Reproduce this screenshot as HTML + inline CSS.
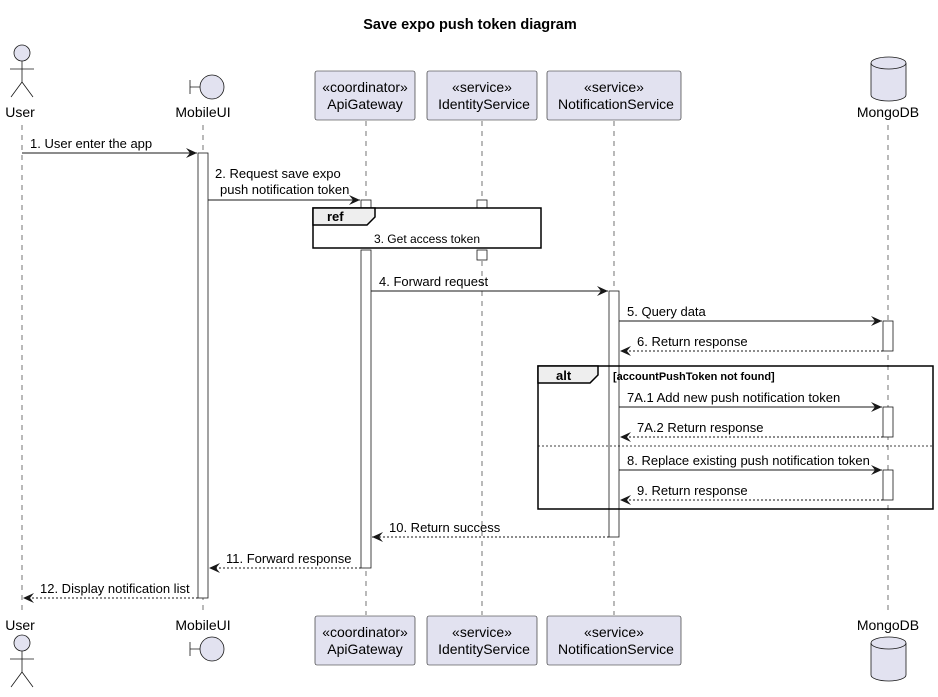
<!DOCTYPE html>
<html><head><style>body{margin:0;background:#fff}svg{display:block}text{font-family:"Liberation Sans",sans-serif;fill:#000}</style></head><body>
<svg width="938" height="697" viewBox="0 0 938 697" xmlns="http://www.w3.org/2000/svg">
<defs><marker id="a" markerWidth="12" markerHeight="10" refX="11" refY="5" orient="auto" markerUnits="userSpaceOnUse"><path d="M0,0 L11,5 L0,10 L4,5 Z" fill="#181818"/></marker></defs>
<text x="470" y="29" text-anchor="middle" font-size="14.5" font-weight="bold">Save expo push token diagram</text>
<g stroke="#181818" stroke-width="0.6" stroke-dasharray="5,5">
<line x1="22" y1="125" x2="22" y2="615"/><line x1="203" y1="125" x2="203" y2="615"/><line x1="366" y1="121" x2="366" y2="615"/><line x1="482" y1="121" x2="482" y2="615"/><line x1="614" y1="121" x2="614" y2="615"/><line x1="888" y1="125" x2="888" y2="615"/></g>
<g fill="#E2E2F0" stroke="#181818" stroke-width="0.6">
<rect x="315" y="71" width="100" height="49" rx="2"/><rect x="427" y="71" width="110" height="49" rx="2"/><rect x="547" y="71" width="134" height="49" rx="2"/>
<rect x="315" y="616" width="100" height="49" rx="2"/><rect x="427" y="616" width="110" height="49" rx="2"/><rect x="547" y="616" width="134" height="49" rx="2"/>
</g>
<g font-size="14" text-anchor="middle">
<text x="365" y="92">«coordinator»</text><text x="365" y="109">ApiGateway</text>
<text x="482" y="92">«service»</text><text x="484" y="109">IdentityService</text>
<text x="614" y="92">«service»</text><text x="616" y="109">NotificationService</text>
<text x="365" y="637">«coordinator»</text><text x="365" y="654">ApiGateway</text>
<text x="482" y="637">«service»</text><text x="484" y="654">IdentityService</text>
<text x="614" y="637">«service»</text><text x="616" y="654">NotificationService</text>
<text x="20" y="117">User</text><text x="203" y="117">MobileUI</text><text x="888" y="117">MongoDB</text>
<text x="20" y="630">User</text><text x="203" y="630">MobileUI</text><text x="888" y="630">MongoDB</text>
</g>
<g fill="#E2E2F0" stroke="#181818" stroke-width="0.8">
<circle cx="22" cy="53" r="8"/><path d="M22,61 V82 M10,69 H34 M22,82 L11,97 M22,82 L33,97" fill="none"/>
<circle cx="22" cy="643" r="8"/><path d="M22,651 V672 M10,659 H34 M22,672 L11,687 M22,672 L33,687" fill="none"/>
<circle cx="212" cy="87" r="12"/><path d="M190,80 V94 M190,87 H200" fill="none"/>
<circle cx="212" cy="649" r="12"/><path d="M190,642 V656 M190,649 H200" fill="none"/>
<path d="M871,63 V95 A17.5,6 0 0 0 906,95 V63 A17.5,6 0 0 0 871,63 Z"/><path d="M871,63 A17.5,6 0 0 0 906,63" fill="none"/>
<path d="M871,643 V675 A17.5,6 0 0 0 906,675 V643 A17.5,6 0 0 0 871,643 Z"/><path d="M871,643 A17.5,6 0 0 0 906,643" fill="none"/>
</g>
<g fill="#fff" stroke="#181818" stroke-width="0.8">
<rect x="198" y="153" width="10" height="445"/>
<rect x="361" y="200" width="10" height="10"/><rect x="361" y="250" width="10" height="318"/>
<rect x="477" y="200" width="10" height="10"/><rect x="477" y="250" width="10" height="10"/>
<rect x="609" y="291" width="10" height="246"/>
<rect x="883" y="321" width="10" height="30"/><rect x="883" y="407" width="10" height="30"/><rect x="883" y="470" width="10" height="30"/>
</g>
<rect x="313" y="208" width="228" height="40" fill="#fff" stroke="#000" stroke-width="1.5"/>
<path d="M313,208 H375 V217 L367,225 H313 Z" fill="#EEEEEE" stroke="#000" stroke-width="1.5"/>
<text x="327" y="221" font-size="13" font-weight="bold">ref</text>
<text x="427" y="243" font-size="12" text-anchor="middle">3. Get access token</text>
<rect x="538" y="366" width="395" height="143" fill="none" stroke="#000" stroke-width="1.5"/>
<path d="M538,366 H598 V375 L590,383 H538 Z" fill="#EEEEEE" stroke="#000" stroke-width="1.5"/>
<text x="556" y="380" font-size="13" font-weight="bold">alt</text>
<text x="613" y="380" font-size="11" font-weight="bold">[accountPushToken not found]</text>
<line x1="538" y1="446" x2="933" y2="446" stroke="#000" stroke-width="0.8" stroke-dasharray="2,2"/>
<g stroke="#181818" stroke-width="1" marker-end="url(#a)">
<line x1="22" y1="153" x2="197" y2="153"/><line x1="208" y1="200" x2="360" y2="200"/><line x1="371" y1="291" x2="608" y2="291"/>
<line x1="619" y1="321" x2="882" y2="321"/><line x1="619" y1="407" x2="882" y2="407"/><line x1="619" y1="470" x2="882" y2="470"/>
<g stroke-dasharray="2,2"><line x1="883" y1="351" x2="620" y2="351"/><line x1="883" y1="437" x2="620" y2="437"/><line x1="883" y1="500" x2="620" y2="500"/>
<line x1="609" y1="537" x2="372" y2="537"/><line x1="361" y1="568" x2="209" y2="568"/><line x1="198" y1="598" x2="23" y2="598"/></g>
</g>
<g font-size="13">
<text x="30" y="148">1. User enter the app</text>
<text x="215" y="178">2. Request save expo</text><text x="220" y="194">push notification token</text>
<text x="379" y="286">4. Forward request</text>
<text x="627" y="316">5. Query data</text><text x="637" y="346">6. Return response</text>
<text x="627" y="402">7A.1 Add new push notification token</text><text x="637" y="432">7A.2 Return response</text>
<text x="627" y="465">8. Replace existing push notification token</text><text x="637" y="495">9. Return response</text>
<text x="389" y="532">10. Return success</text><text x="226" y="563">11. Forward response</text><text x="40" y="593">12. Display notification list</text>
</g>
</svg>
</body></html>
